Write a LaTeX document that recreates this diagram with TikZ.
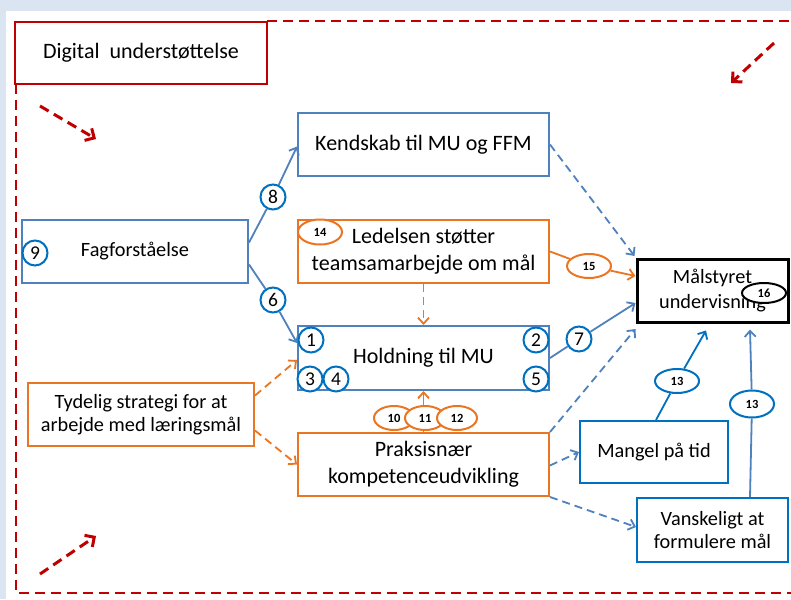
\documentclass[tikz,border=0pt]{standalone}
\usepackage{fontspec}
\setmainfont{Carlito}
\usetikzlibrary{arrows.meta,shapes.geometric}
\definecolor{bgblue}{RGB}{219,229,241}
\definecolor{dred}{RGB}{192,0,0}
\definecolor{sblue}{RGB}{79,129,189}
\definecolor{cblue}{RGB}{0,112,192}
\definecolor{orng}{RGB}{234,118,36}
\begin{document}
\begin{tikzpicture}[x=1pt,y=-1pt,
  box/.style={draw=#1, line width=2pt, fill=white, align=center, inner sep=0pt},
  bigt/.style={font=\fontsize{22}{27}\selectfont},
  smallt/.style={font=\fontsize{20.3}{23}\selectfont},
  num/.style={circle, draw=cblue, line width=2pt, fill=white, minimum size=25pt, inner sep=0pt, font=\fontsize{19.5}{19.5}\selectfont},
  oval/.style={ellipse, draw=#1, line width=2pt, fill=white, minimum width=44pt, minimum height=24pt, inner sep=0pt, font=\bfseries\fontsize{12.5}{12.5}\selectfont},
  tip/.style={-{Straight Barb[length=6pt,width=11pt,line width=1.8pt]}},
  bl/.style={draw=sblue, line width=1.8pt},
  bld/.style={draw=sblue, line width=1.8pt, dash pattern=on 8pt off 5pt},
  orl/.style={draw=orng, line width=1.8pt},
  ord/.style={draw=orng, line width=1.8pt, dash pattern=on 8pt off 5pt},
  rdash/.style={draw=dred, line width=2.5pt, dash pattern=on 10pt off 6pt},
  rarrow/.style={draw=dred, line width=3pt, dash pattern=on 10pt off 6pt, -{Straight Barb[length=7pt,width=14pt,line width=3pt]}}
]
\useasboundingbox (0,0) rectangle (791,599);
\fill[bgblue] (0,0) rectangle (791,599);
\fill[white] (6,11) rectangle (791,599);

% dashed frame
\draw[rdash] (267,21) -- (791,21);
\draw[rdash] (16,84) -- (16,593) -- (791,593);

% Digital box
\node[box=dred, bigt, minimum width=252pt, minimum height=62pt] (dig) at (141,53) {Digital~ understøttelse};

% red dashed arrows
\coordinate (r1a) at (40,106); \coordinate (r1b) at (96,139);
\coordinate (r2a) at (774,43); \coordinate (r2b) at (731,83);
\coordinate (r3a) at (40,574); \coordinate (r3b) at (96,536);
\draw[rarrow] (r1a) -- (r1b);
\draw[rarrow] (r2a) -- (r2b);
\draw[rarrow] (r3a) -- (r3b);

% boxes
\node[box=sblue, bigt, minimum width=251pt, minimum height=63pt] (kend) at (423.5,144.5) {Kendskab til MU og FFM};
\node[box=orng, bigt, minimum width=251pt, minimum height=63pt] (led) at (423.5,251.5) {Ledelsen støtter\\teamsamarbejde om mål};
\node[box=sblue, bigt, minimum width=251pt, minimum height=64pt] (hold) at (423.5,358) {Holdning til MU};
\node[box=orng, bigt, minimum width=251pt, minimum height=63pt] (prak) at (423.5,464.5) {Praksisnær\\kompetenceudvikling};
\node[box=sblue, smallt, minimum width=226pt, minimum height=63pt] (fag) at (135,251.5) {Fagforståelse};
\node[box=orng, smallt, minimum width=226pt, minimum height=63pt] (tyd) at (141,414.5) {Tydelig strategi for at\\arbejde med læringsmål};
\node[box=black, line width=3pt, font=\fontsize{20.3}{25}\selectfont, minimum width=151pt, minimum height=63pt] (maal) at (712.5,291) {Målstyret\\undervisning};
\node[box=cblue, smallt, minimum width=148pt, minimum height=62pt] (mang) at (654,452) {Mangel på tid};
\node[box=cblue, smallt, minimum width=151pt, minimum height=64pt] (vans) at (712.5,530) {Vanskeligt at\\formulere mål};

% connector labels
\node[num] (c8) at (273,197) {8};
\node[num] (c6) at (273,300) {6};
\node[num] (c7) at (579,339) {7};
\node[oval=orng] (o15) at (589,266) {15};
\node[oval=cblue] (o13a) at (677,381) {13};
\node[oval=cblue, minimum height=27pt] (o13b) at (752,404) {13};

% connectors
\draw[bl] ([yshift=9pt]fag.east) -- (c8);
\draw[bl,tip] (c8) -- ([yshift=-2pt]kend.west);
\draw[bl] ([yshift=-13pt]fag.east) -- (c6);
\draw[bl,tip] (c6) -- ([yshift=15pt]hold.west);
\draw[bl] (hold.east) -- (c7);
\draw[bl,tip] (c7) -- ([yshift=-12pt]maal.west);
\draw[bld,tip] (kend.east) -- ([xshift=-1pt,yshift=2pt]maal.north west);
\draw[orl] (led.east) -- (o15);
\draw[orl,tip] (o15) -- ([yshift=15pt]maal.west);
\draw[ord,tip] (led.south) -- (hold.north);
\draw[orl,tip] (prak.north) -- (hold.south);
\draw[ord,tip] ([yshift=19pt]tyd.east) -- ([yshift=-2pt]hold.west);
\draw[ord,tip] ([yshift=-16pt]tyd.east) -- (prak.west);
\draw[bld,tip] (prak.north east) -- ([yshift=-5pt]maal.south west);
\draw[bld,tip] ([yshift=-1pt]prak.east) -- (mang.west);
\draw[bld,tip] (prak.south east) -- ([yshift=3pt]vans.west);
\draw[draw=cblue, line width=1.8pt] ([xshift=2pt]mang.north) -- (o13a);
\draw[draw=cblue, line width=1.8pt, tip] (o13a) -- ([xshift=-6.5pt,yshift=-6.5pt]maal.south);
\draw[bl] ([xshift=37.5pt]vans.north) -- (o13b);
\draw[bl,tip] (o13b) -- ([xshift=37.5pt,yshift=-5.5pt]maal.south);

% numbers on boxes
\node[num] (c9) at (35,253) {9};
\node[num] (c1) at (311,340) {1};
\node[num] (c2) at (536,340) {2};
\node[num] (c3) at (310,379) {3};
\node[num] (c4) at (336,379) {4};
\node[num] (c5) at (536,379) {5};
\node[oval=orng, minimum height=25pt] (o14) at (320,232) {14};
\node[oval=orng, minimum width=40pt] (o10) at (394,418) {10};
\node[oval=orng, minimum width=40pt] (o11) at (425,418) {11};
\node[oval=orng, minimum width=40pt] (o12) at (457,418) {12};
\node[oval=black, minimum height=20pt] (o16) at (764,293) {16};
\end{tikzpicture}
\end{document}
